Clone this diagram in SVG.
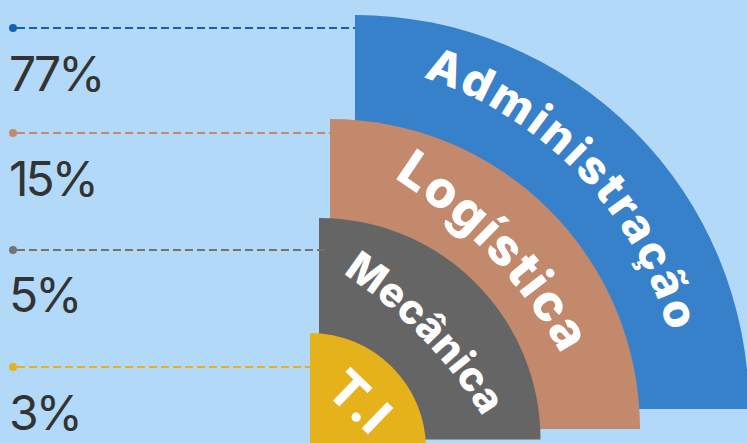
<svg xmlns="http://www.w3.org/2000/svg" width="747" height="443" viewBox="0 0 747 443">
<style>
.pct{font-family:Inter,"Liberation Sans",sans-serif;font-size:48px;font-weight:400;fill:#333333;letter-spacing:-3px}
.lbl{font-family:Inter,"Liberation Sans",sans-serif;font-weight:800;fill:#ffffff}
.dash{fill:none;stroke-width:2;stroke-dasharray:8 4}
</style>
<defs>
<path id="pAdm" d="M423.2,77.4 A376,376 0 0 1 674.8,356.8"/>
<path id="pLog" d="M393.8,178 A487,487 0 0 1 573.4,377.5"/>
<path id="pMec" d="M342.9,273.6 A456,456 0 0 1 489.5,428"/>
</defs>
<rect width="747" height="443" fill="#B2D9F8"/>
<g id="adm">
<path d="M355,409 V15 A394,394 0 0 1 749,409 Z" fill="#3780CA"/>
<text class="lbl" font-size="46" letter-spacing="2.8"><textPath href="#pAdm">Administração</textPath></text>
</g>
<g id="log">
<path d="M330,429 V119 A310,310 0 0 1 640,429 Z" fill="#C3896C"/>
<text class="lbl" font-size="51" letter-spacing="1.8"><textPath href="#pLog">Logística</textPath></text>
</g>
<g id="mec">
<path d="M319,439.5 V218 A221.5,221.5 0 0 1 540.5,439.5 Z" fill="#656565"/>
<text class="lbl" font-size="41" letter-spacing="0.4"><textPath href="#pMec">Mecânica</textPath></text>
</g>
<g id="ti">
<path d="M310,449 V333 A116,116 0 0 1 426,449 Z" fill="#E6B21C"/>
<text class="lbl" font-size="50" text-anchor="middle" transform="translate(347,414) rotate(44)">T.I</text>
</g>
<g id="connectors">
<circle cx="13" cy="28" r="4" fill="#1062B4"/>
<line class="dash" x1="17" y1="28" x2="355" y2="28" stroke="#1062B4"/>
<circle cx="13" cy="133" r="4" fill="#C3896C"/>
<line class="dash" x1="17" y1="133" x2="330" y2="133" stroke="#C3896C"/>
<circle cx="13" cy="250" r="4" fill="#737373"/>
<line class="dash" x1="17" y1="250" x2="325" y2="250" stroke="#737373"/>
<circle cx="13" cy="367" r="4" fill="#E6B21C"/>
<line class="dash" x1="17" y1="367" x2="310" y2="367" stroke="#E6B21C"/>
</g>
<g id="labels">
<text class="pct" x="9" y="91">77%</text>
<text class="pct" x="9" y="196">15%</text>
<text class="pct" x="9" y="312">5%</text>
<text class="pct" x="9" y="430">3%</text>
</g>
</svg>
